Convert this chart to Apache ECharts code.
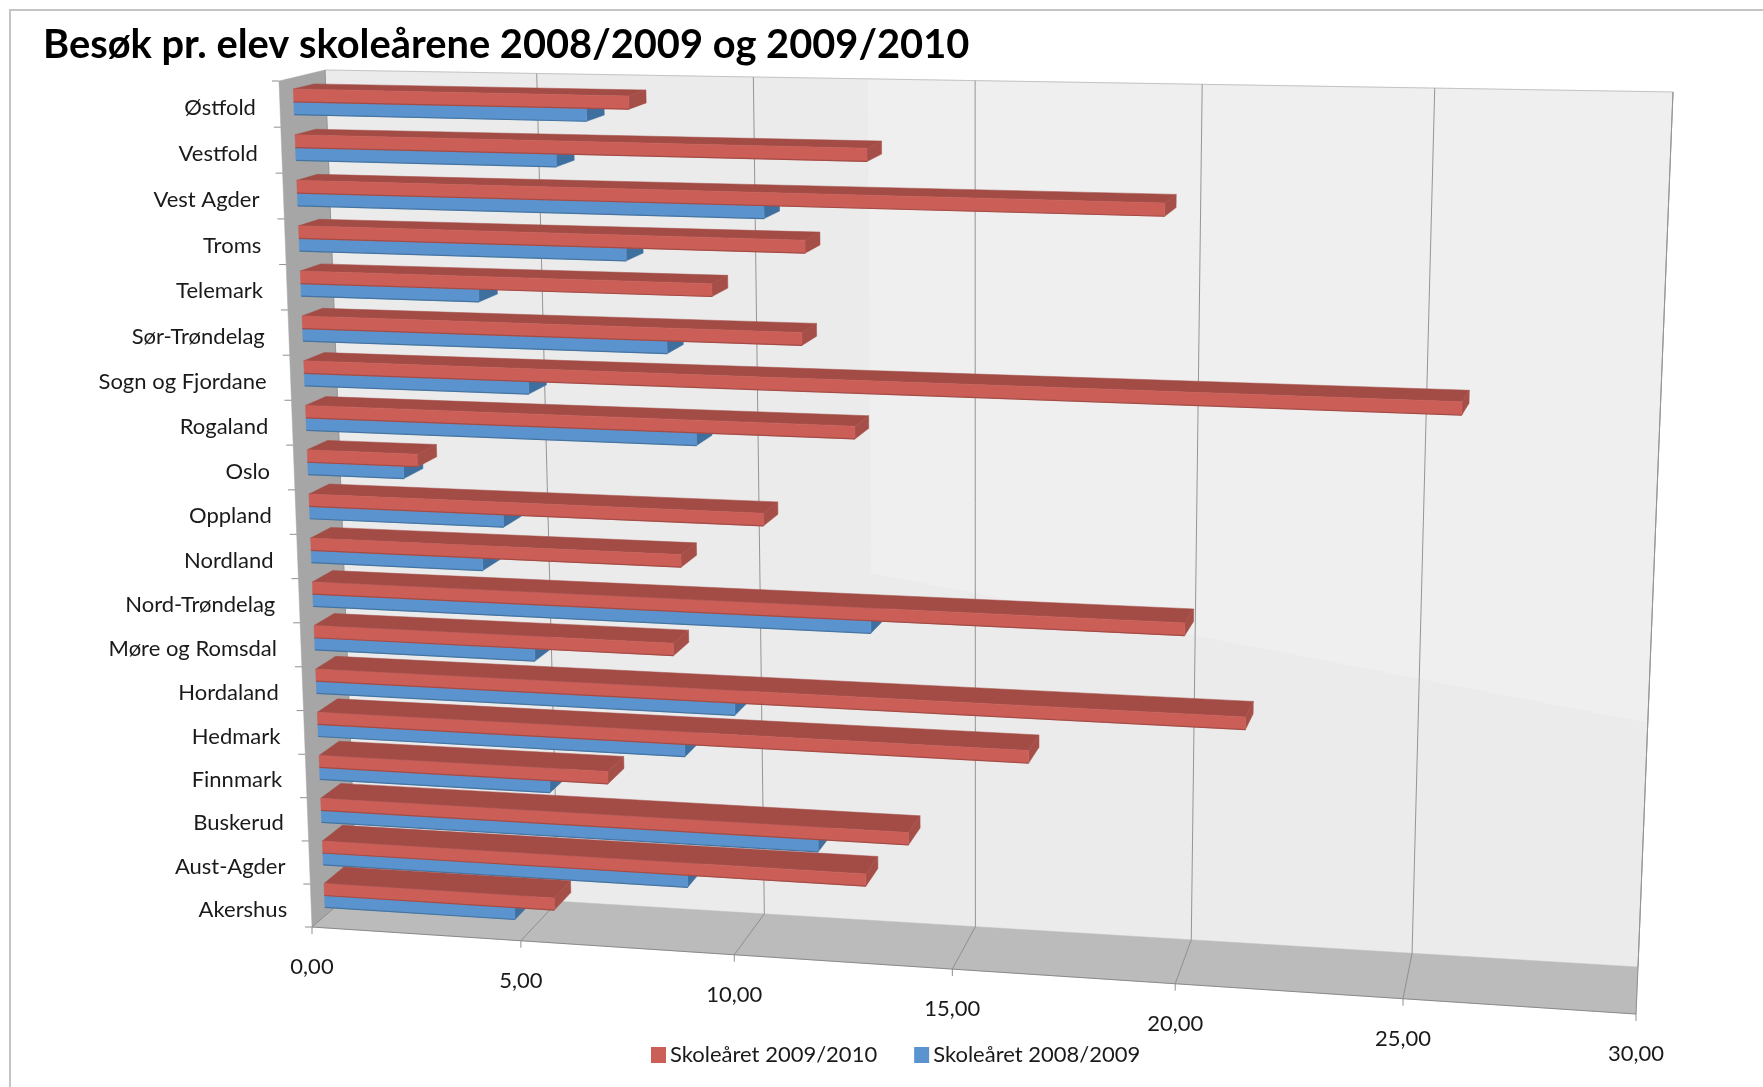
<!DOCTYPE html>
<html><head><meta charset="utf-8">
<style>html,body{margin:0;padding:0;background:#fff}#c{width:1763px;height:1087px}</style>
<script src="https://cdn.jsdelivr.net/npm/echarts@6/dist/echarts.min.js"></script>
</head><body><div id="c"></div>
<script>
var categories = ['Østfold','Vestfold','Vest Agder','Troms','Telemark','Sør-Trøndelag','Sogn og Fjordane','Rogaland','Oslo','Oppland','Nordland','Nord-Trøndelag','Møre og Romsdal','Hordaland','Hedmark','Finnmark','Buskerud','Aust-Agder','Akershus'];
var values2009 = [7.75,13.08,19.6,11.67,9.55,11.57,26.0,12.74,2.62,10.63,8.72,20.07,8.5,21.42,16.6,6.9,13.86,12.87,5.55];
var values2008 = [6.78,6.06,10.76,7.61,4.18,8.5,5.28,9.13,2.28,4.6,4.08,13.05,5.25,9.9,8.72,5.52,11.78,8.72,4.6];
var valueTicks = [0,5,10,15,20,25,30];
var tickLabels = ['0,00','5,00','10,00','15,00','20,00','25,00','30,00'];
var nameNew = 'Skoleåret 2009/2010', nameOld = 'Skoleåret 2008/2009';
var titleText = 'Besøk pr. elev skoleårene 2008/2009 og 2009/2010';

var G = {left:300, top:80, width:1300, height:850};
var FRONT = [[279,81],[1656,112],[1636,1014],[312,927]];
var BACK  = [[325,70],[1673,92],[1638,967],[356,889]];
var BAR_D0 = 0.3, BAR_D1 = 0.75, BAR_H = 0.28, BAR_SHIFT = 0.025;
var FONT = 'Lato, "Open Sans", sans-serif';
var TXT = '#1a1a1a';

function homog(q){
  var x0=q[0][0],y0=q[0][1],x1=q[1][0],y1=q[1][1],x2=q[2][0],y2=q[2][1],x3=q[3][0],y3=q[3][1];
  var dx1=x1-x2,dx2=x3-x2,sx=x0-x1+x2-x3,dy1=y1-y2,dy2=y3-y2,sy=y0-y1+y2-y3;
  var den=dx1*dy2-dx2*dy1,g=(sx*dy2-dx2*sy)/den,h=(dx1*sy-sx*dy1)/den;
  return [x1-x0+g*x1,x3-x0+h*x3,x0,y1-y0+g*y1,y3-y0+h*y3,y0,g,h];
}
// maps normalised plot position (u across values, w down categories, d depth) to the tilted picture
function P(u,w,d){
  var q=FRONT.map(function(p,i){return [p[0]+(BACK[i][0]-p[0])*d,p[1]+(BACK[i][1]-p[1])*d];});
  var m=homog(q),k=m[6]*u+m[7]*w+1;
  return [(m[0]*u+m[1]*w+m[2])/k,(m[3]*u+m[4]*w+m[5])/k];
}
function norm(pt){return [(pt[0]-G.left)/G.width,(pt[1]-G.top)/G.height];}
function poly(points,fill,stroke,z){
  return {type:'polygon',z2:z||0,shape:{points:points},style:{fill:fill,stroke:stroke||fill,lineWidth:stroke?1:0.5}};
}
function seg(a,b,col,w){
  return {type:'line',shape:{x1:a[0],y1:a[1],x2:b[0],y2:b[1]},style:{stroke:col,lineWidth:w||1,fill:null}};
}
function frameItem(){
  var wall=[P(0,0,1),P(1,0,1),P(1,1,1),P(0,1,1)];
  var light=[P(0.42,0,1),P(1,0,1),P(1,0.71,1),P(0.42,0.575,1)];
  return {type:'group',children:[
    poly(wall,'#ebebeb'),
    poly(light,'#efefef'),
    poly([P(0,1,0),P(1,1,0),P(1,1,1),P(0,1,1)],'#bbbbbb'),
    poly([P(0,0,0),P(0,0,1),P(0,1,1),P(0,1,0)],'#a6a6a6'),
    seg(P(0,1,0),P(1,1,0),'#8a8a8a',1),
    seg(P(0,0,1),P(1,0,1),'#c4c4c4',1),
    seg(P(1,0,1),P(1,1,1),'#9a9a9a',1)
  ]};
}
function gridItem(params,api){
  var u=norm(api.coord([api.value(0),0]))[0];
  var a=P(u,1,0);
  return {type:'group',children:[
    seg(P(u,0,1),P(u,1,1),'#959595',1),
    seg(P(u,1,1),a,'#8f8f8f',1),
    seg(a,[a[0],a[1]+7],'#8f8f8f',1),
    {type:'text',style:{text:tickLabels[params.dataIndex],x:a[0],y:a[1]+40,align:'center',verticalAlign:'middle',fill:TXT,font:'22px '+FONT}}
  ]};
}
function catItem(params,api){
  var w=norm(api.coord([0,api.value(1)]))[1];
  var band=api.size([0,1])[1]/G.height;
  var a=P(0,w,0),t=P(0,w-band/2,0);
  return {type:'group',children:[
    seg(t,[t[0]-7,t[1]],'#8f8f8f',1),
    params.dataIndex===categories.length-1?seg(P(0,1,0),[P(0,1,0)[0]-7,P(0,1,0)[1]],'#8f8f8f',1):{type:'group',children:[]},
    {type:'text',style:{text:categories[params.dataIndex],x:a[0]-24,y:a[1]+4,align:'right',verticalAlign:'middle',fill:TXT,font:'22px '+FONT}}
  ]};
}
function barRender(cols,w0off,w1off){
  return function(params,api){
    var c=norm(api.coord([api.value(0),api.value(1)]));
    var band=api.size([0,1])[1]/G.height;
    var u=c[0],w0=c[1]+w0off*band,w1=c[1]+w1off*band;
    var d0=BAR_D0,d1=BAR_D1;
    return {type:'group',children:[
      poly([P(0,w0,d0),P(u,w0,d0),P(u,w0,d1),P(0,w0,d1)],cols.top),
      poly([P(u,w0,d0),P(u,w0,d1),P(u,w1,d1),P(u,w1,d0)],cols.side),
      poly([P(0,w0,d0),P(u,w0,d0),P(u,w1,d0),P(0,w1,d0)],cols.front),
      seg(P(0,w1,d0),P(u,w1,d0),cols.edge,1.2)
    ]};
  };
}
function pairs(arr){return arr.map(function(v,i){return [v,i];});}
var RED={front:'#cb5f58',top:'#a34c46',side:'#a64e48',edge:'#a34c46'};
var BLUE={front:'#5b93ce',top:'#3f6f9f',side:'#3f6f9f',edge:'#44749f'};

var option={
  animation:false,
  backgroundColor:'#ffffff',
  title:{text:titleText,left:38,top:20,textStyle:{fontFamily:FONT,fontWeight:'bold',fontSize:39.8,color:'#000'}},
  legend:{data:[nameNew,nameOld],left:646,top:1039,itemWidth:15,itemHeight:16,itemGap:37,icon:'rect',
    textStyle:{fontFamily:FONT,fontSize:22,color:TXT,padding:[0,0,0,-1]}},
  graphic:[{type:'rect',silent:true,shape:{x:10,y:10,width:1800,height:1200},style:{fill:'none',stroke:'#c4c4c4',lineWidth:2},z:-1}],
  grid:Object.assign({show:false},G),
  xAxis:{type:'value',min:0,max:30,interval:5,show:false},
  yAxis:{type:'category',data:categories,inverse:true,show:false},
  series:[
    {type:'custom',name:'frame',silent:true,z:1,data:[[0,0]],renderItem:frameItem,clip:false},
    {type:'custom',name:'grid',silent:true,z:2,data:valueTicks.map(function(v){return [v,0];}),renderItem:gridItem,clip:false},
    {type:'custom',name:'cats',silent:true,z:2,data:categories.map(function(c,i){return [0,i];}),renderItem:catItem,clip:false},
    {type:'custom',name:nameOld,z:3,itemStyle:{color:BLUE.front},data:pairs(values2008),renderItem:barRender(BLUE,BAR_SHIFT,BAR_SHIFT+BAR_H),clip:false},
    {type:'custom',name:nameNew,z:4,itemStyle:{color:RED.front},data:pairs(values2009),renderItem:barRender(RED,BAR_SHIFT-BAR_H,BAR_SHIFT),clip:false}
  ]
};
echarts.init(document.getElementById('c'),null,{renderer:'canvas'}).setOption(option);
</script></body></html>
